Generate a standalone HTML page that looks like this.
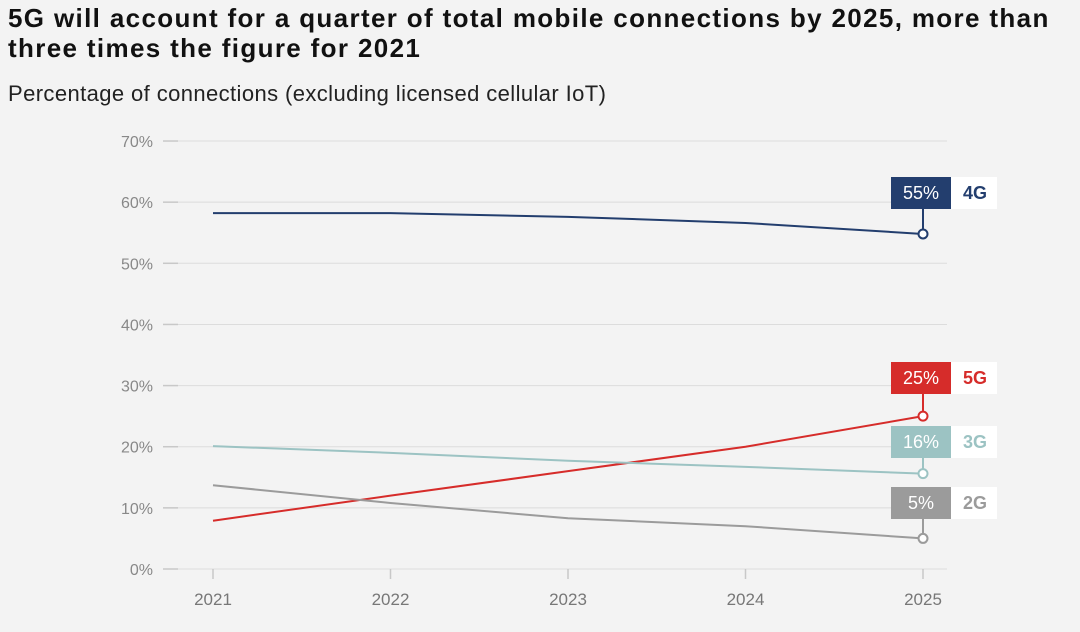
<!DOCTYPE html>
<html><head><meta charset="utf-8"><style>
body{margin:0;background:#f3f3f3;font-family:"Liberation Sans",sans-serif;}
#wrap{position:relative;width:1080px;height:632px;overflow:hidden;background:#f3f3f3;}
h1{position:absolute;left:8px;top:3px;margin:0;font-size:26px;line-height:30px;font-weight:bold;color:#111;width:1070px;letter-spacing:1.35px;}
.sub{position:absolute;left:8px;top:81px;font-size:22px;letter-spacing:0.4px;color:#222;}
</style></head><body>
<div id="wrap">
<h1>5G will account for a quarter of total mobile connections by 2025, more than three times the figure for 2021</h1>
<div class="sub">Percentage of connections (excluding licensed cellular IoT)</div>
<svg id="chart" width="1080" height="632" style="position:absolute;left:0;top:0"></svg>
</div>
<script>
const years=["2021","2022","2023","2024","2025"];
const yTicks=[0,10,20,30,40,50,60,70];
const names=["4G","5G","3G","2G"];
const colors=["#233e6e","#d62c2a","#9cc3c3","#9b9b9b"];
const s4G=[58.2,58.2,57.6,56.6,54.8];
const s5G=[7.9,12,16,20,25];
const s3G=[20.1,19,17.7,16.7,15.6];
const s2G=[13.7,10.8,8.3,7,5];
const labels=["55%","25%","16%","5%"];
const series=[s4G,s5G,s3G,s2G];
const labelY=[193,378,442,503];
const NS="http://www.w3.org/2000/svg";
const svg=document.getElementById('chart');
const x=i=>213+i*177.5;
const y=v=>569-v*6.114;
function mk(t,a){const e=document.createElementNS(NS,t);for(const k in a)e.setAttribute(k,a[k]);svg.appendChild(e);return e;}
yTicks.forEach(v=>{
 const g=mk('line',{x1:163,x2:947,y1:y(v),y2:y(v),stroke:'#dcdcdc','stroke-width':1});
 
 
 mk('line',{x1:163,x2:178,y1:y(v),y2:y(v),stroke:'#c8c8c8','stroke-width':1.5});
 const t=mk('text',{x:153,y:y(v)+6,'text-anchor':'end','font-size':16,fill:'#888'});
 t.textContent=v+'%';
 
 
});
years.forEach((yr,i)=>{
 mk('line',{x1:x(i),x2:x(i),y1:569,y2:579,stroke:'#c8c8c8','stroke-width':1.5});
 const t=mk('text',{x:x(i),y:605,'text-anchor':'middle','font-size':17,fill:'#777'});
 t.textContent=yr;
 
 
});
series.forEach((s,k)=>{
 const p=mk('polyline',{points:s.map((v,i)=>x(i)+','+y(v)).join(' '),fill:'none',stroke:colors[k],'stroke-width':2});
 
 
 const ex=x(4),ey=y(s[4]),ly=labelY[k];
 mk('line',{x1:ex,x2:ex,y1:ly+16,y2:ey,stroke:colors[k],'stroke-width':2});
 const c=mk('circle',{cx:ex,cy:ey,r:4.5,fill:'#fff',stroke:colors[k],'stroke-width':2});
 
 
 mk('rect',{x:891,y:ly-16,width:60,height:32,fill:colors[k]});
 mk('rect',{x:951,y:ly-16,width:46,height:32,fill:'#fff'});
 const v=mk('text',{x:921,y:ly+6,'text-anchor':'middle','font-size':18,fill:'#fff'});
 v.textContent=labels[k];
 
 
 const n=mk('text',{x:975,y:ly+6,'text-anchor':'middle','font-size':18,'font-weight':'bold',fill:colors[k]});
 n.textContent=names[k];
 
 
});
</script>
</body></html>
